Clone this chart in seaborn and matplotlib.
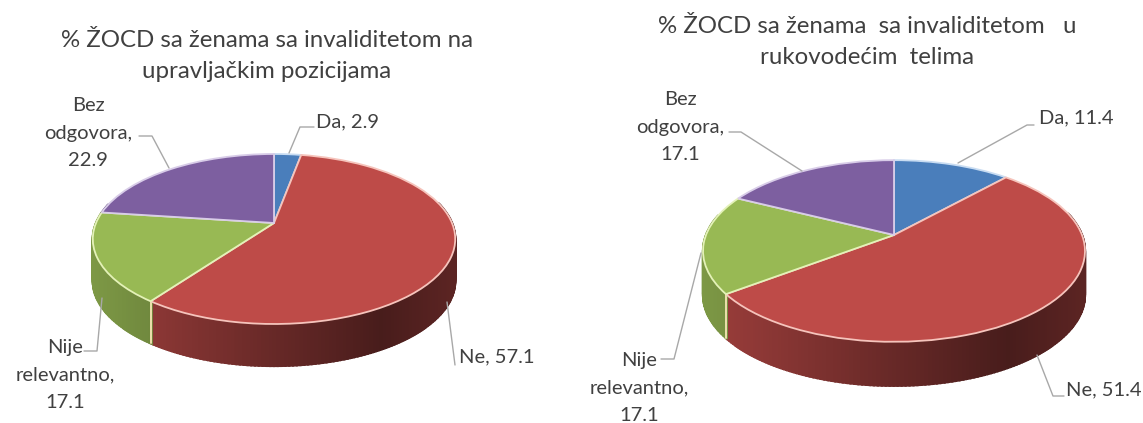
import numpy as np
import seaborn as sns
import matplotlib
matplotlib.use("Agg")
import matplotlib.pyplot as plt
from matplotlib.transforms import Transform

# data
categories = ['Da', 'Ne', 'Nije relevantno', 'Bez odgovora']
values_left = [2.9, 57.1, 17.1, 22.9]
values_right = [11.4, 51.4, 17.1, 17.1]
title_left = '% ŽOCD sa ženama sa invaliditetom na\nupravljačkim pozicijama'
title_right = '% ŽOCD sa ženama  sa invaliditetom   u\nrukovodećim  telima'

sns.set_theme(style="white")
plt.rcParams['font.family'] = ['Lato', 'DejaVu Sans']
TEXT = '#404040'
LINE = '#a8a8a8'
LABEL_SIZE = 14.5
colors = sns.color_palette(['#4a7ebb', '#be4b48', '#98b954', '#7d5fa0'])
rims = ['#c8dcf2', '#f6c4bc', '#e4f2b8', '#d8cce8']


# unit circle -> tilted disc in pixel coords (front of the pie is closer)
class Tilt(Transform):
    input_dims = 2
    output_dims = 2

    def __init__(self, cx, cy, rx, ry, k):
        super().__init__()
        self.cx, self.cy, self.rx, self.ry, self.k = cx, cy, rx, ry, k

    def transform_non_affine(self, xy):
        xy = np.asarray(xy)
        w = 1 + self.k * xy[:, 1]
        return np.column_stack([self.cx + self.rx * xy[:, 0] / w,
                                self.cy - self.ry * xy[:, 1] / w])


def shade(t):
    return np.interp(t, [0, 0.15, 0.45, 0.8, 1], [0.82, 0.74, 0.57, 0.38, 0.48])


def draw_pie(ax, values, tilt, depth):
    wedges, _ = ax.pie(values, colors=colors, startangle=90, counterclock=False,
                       wedgeprops=dict(linewidth=1.3))
    ax.set_aspect('auto')
    ax.set_xlim(0, 1143)
    ax.set_ylim(423, 0)
    for w, col, rim in zip(wedges, colors, rims):
        w.set_transform(tilt + ax.transData)
        w.set_edgecolor(rim)
        w.set_zorder(3)
        # side wall of the slice
        th = np.radians(np.arange(w.theta1, w.theta2 + 1, 1.0))
        pts = tilt.transform_non_affine(np.column_stack([np.cos(th), np.sin(th)]))
        for i in range(len(th) - 1):
            if np.sin(th[i]) > 0.25:
                continue
            t = (pts[i, 0] - (tilt.cx - tilt.rx)) / (2 * tilt.rx)
            c = np.array(col) * shade(t)
            xs = [pts[i, 0], pts[i + 1, 0], pts[i + 1, 0], pts[i, 0]]
            ys = [pts[i, 1], pts[i + 1, 1], pts[i + 1, 1] + depth, pts[i, 1] + depth]
            ax.fill(xs, ys, color=c, linewidth=1.6, zorder=2)
        # light seam where two slices meet on the wall
        for a in (w.theta1, w.theta2):
            a = np.radians(a)
            if np.sin(a) < -0.2:
                p = tilt.transform_non_affine(np.array([[np.cos(a), np.sin(a)]]))[0]
                ax.plot([p[0], p[0]], [p[1], p[1] + depth], color='#f0e4b0', lw=1.1, zorder=2.5)


def leader(ax, xs, ys):
    ax.plot(xs, ys, color=LINE, lw=1.0, zorder=4)


def label(ax, x, y, s):
    ax.text(x, y, s, ha='center', va='center', fontsize=LABEL_SIZE, color=TEXT, linespacing=1.72)


fig = plt.figure(figsize=(11.43, 4.23), dpi=100)
ax = fig.add_axes([0, 0, 1, 1])

draw_pie(ax, values_left, Tilt(274, 223, 178, 82, 0.188), 42)
draw_pie(ax, values_right, Tilt(894, 235, 188, 88, 0.176), 44)
ax.set_xlim(0, 1143)
ax.set_ylim(423, 0)
ax.axis('off')

# titles
ax.text(267, 56, title_left, ha='center', va='center', fontsize=17.3, color=TEXT, linespacing=1.55)
ax.text(867, 42, title_right, ha='center', va='center', fontsize=17.3, color=TEXT, linespacing=1.62)

# left labels
label(ax, 347, 122, f'{categories[0]}, {values_left[0]}')
label(ax, 88, 133, f'Bez\nodgovora,\n{values_left[3]}')
label(ax, 65, 375, f'Nije\nrelevantno,\n{values_left[2]}')
label(ax, 497, 357, f'{categories[1]}, {values_left[1]}')
leader(ax, [289, 300, 314], [153, 127, 127])
leader(ax, [169, 152, 139], [168, 136, 136])
leader(ax, [102, 97, 84], [298, 351, 351])
leader(ax, [447, 455], [302, 365])

# right labels
label(ax, 1076, 118, f'{categories[0]}, {values_right[0]}')
label(ax, 680, 127, f'Bez\nodgovora,\n{values_right[3]}')
label(ax, 639, 388, f'Nije\nrelevantno,\n{values_right[2]}')
label(ax, 1104, 390, f'{categories[1]}, {values_right[1]}')
leader(ax, [958, 1027, 1034], [163, 125, 125])
leader(ax, [802, 741, 729], [171, 132, 132])
leader(ax, [701, 674, 661], [253, 359, 359])
leader(ax, [1037, 1053, 1064], [355, 396, 396])

fig.savefig('out.png', dpi=100)
